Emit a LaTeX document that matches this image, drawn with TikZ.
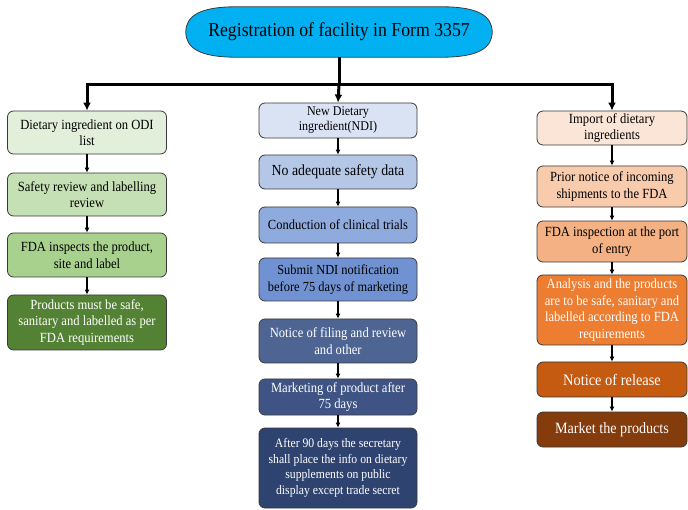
\documentclass[tikz,border=0pt]{standalone}
\usepackage{fontspec}
\setmainfont{Liberation Serif}[FakeStretch=0.9]
\usetikzlibrary{arrows.meta,positioning,calc,backgrounds}
\definecolor{titlefill}{HTML}{00B0F0}
\definecolor{gA}{HTML}{E2EFDA}
\definecolor{gB}{HTML}{C5E0B4}
\definecolor{gC}{HTML}{A9D18E}
\definecolor{gD}{HTML}{548235}
\definecolor{bA}{HTML}{DAE3F3}
\definecolor{bB}{HTML}{B4C7E7}
\definecolor{bC}{HTML}{8FAADC}
\definecolor{bD}{HTML}{7092D2}
\definecolor{bE}{HTML}{4E6594}
\definecolor{bF}{HTML}{3F5484}
\definecolor{bG}{HTML}{2F4370}
\definecolor{oA}{HTML}{FBE5D6}
\definecolor{oB}{HTML}{F8CBAD}
\definecolor{oC}{HTML}{F4B183}
\definecolor{oD}{HTML}{ED7D31}
\definecolor{oE}{HTML}{C55A11}
\definecolor{oF}{HTML}{843C0C}
\definecolor{edge}{HTML}{3A3A3A}
\tikzset{
  x=1pt, y=-1pt,
  box/.style={draw=edge, line width=0.8pt, rounded corners=6pt, align=center,
    inner sep=2pt, font=\fontsize{14}{16.5}\selectfont},
  lbox/.style={box, minimum width=159pt},
  mbox/.style={box, minimum width=158pt},
  rbox/.style={box, minimum width=150pt},
  link/.style={line width=1.3pt, -{Latex[length=5pt,width=5pt]}},
  trunk/.style={line width=3pt},
  branch/.style={line width=3pt, -{Latex[length=8pt,width=8pt]}}
}
\begin{document}
\begin{tikzpicture}
\useasboundingbox (0,0) rectangle (688,510);
% title
\node[inner sep=0pt, minimum width=306pt, minimum height=50pt,
  font=\fontsize{19.7}{23}\selectfont]
  (title) at (339,32) {Registration of facility in Form 3357};
\begin{scope}[on background layer]
\path[draw=edge, line width=0.8pt, fill=titlefill]
  ($(title.north west)+(50,0)$) -- ($(title.north east)+(-50,0)$)
  .. controls +(36,0) and +(0,-16) .. (title.east)
  .. controls +(0,16) and +(36,0) .. ($(title.south east)+(-50,0)$)
  -- ($(title.south west)+(50,0)$)
  .. controls +(-36,0) and +(0,16) .. (title.west)
  .. controls +(0,-16) and +(-36,0) .. ($(title.north west)+(50,0)$) -- cycle;
\end{scope}
\coordinate (bar) at (339,85);
% left column
\node[lbox, fill=gA, minimum height=43pt] (l1) at (87,132.5) {Dietary ingredient on ODI\\list};
\node[lbox, fill=gB, minimum height=43pt] (l2) at (87,194.5) {Safety review and labelling\\review};
\node[lbox, fill=gC, minimum height=44pt] (l3) at (87,255) {FDA inspects the product,\\site and label};
\node[lbox, fill=gD, text=white, minimum height=55pt] (l4) at (87,322.5) {Products must be safe,\\sanitary and labelled as per\\FDA requirements};
% middle column
\node[mbox, fill=bA, minimum height=35pt, font=\fontsize{13.4}{15}\selectfont] (m1) at (338,120.5) {New Dietary\\ingredient(NDI)};
\node[mbox, fill=bB, minimum height=34pt, font=\fontsize{15.4}{18}\selectfont] (m2) at (338,172) {No adequate safety data};
\node[mbox, fill=bC, minimum height=36pt, font=\fontsize{13.9}{16}\selectfont] (m3) at (338,225) {Conduction of clinical trials};
\node[mbox, fill=bD, minimum height=43pt, font=\fontsize{13.8}{16.5}\selectfont] (m4) at (338,279.5) {Submit NDI notification\\before 75 days of marketing};
\node[mbox, fill=bE, text=white, minimum height=44pt] (m5) at (338,341) {Notice of filing and review\\and other};
\node[mbox, fill=bF, text=white, minimum height=36pt, font=\fontsize{14}{15.5}\selectfont] (m6) at (338,397) {Marketing of product after\\75 days};
\node[mbox, fill=bG, text=white, minimum height=80pt, font=\fontsize{13}{15.5}\selectfont] (m7) at (338,468) {After 90 days the secretary\\shall place the info on dietary\\supplements on public\\display except trade secret};
% right column
\node[rbox, fill=oA, minimum height=34pt] (r1) at (612,128) {Import of dietary\\ingredients};
\node[rbox, fill=oB, minimum height=41pt] (r2) at (612,186.5) {Prior notice of incoming\\shipments to the FDA};
\node[rbox, fill=oC, minimum height=41pt] (r3) at (612,241.5) {FDA inspection at the port\\of entry};
\node[rbox, fill=oD, text=white, minimum height=70pt] (r4) at (612,310) {Analysis and the products\\are to be safe, sanitary and\\labelled according to FDA\\requirements};
\node[rbox, fill=oE, text=white, minimum height=35pt, font=\fontsize{16}{18}\selectfont] (r5) at (612,379.5) {Notice of release};
\node[rbox, fill=oF, text=white, minimum height=35pt, font=\fontsize{15.7}{18}\selectfont] (r6) at (612,429.5) {Market the products};
% trunk and branches
\draw[trunk] (title.south) -- (bar);
\draw[branch] (bar) -| (l1.north);
\draw[branch] (bar) -- (m1.north);
\draw[branch] (bar) -| (r1.north);
% links
\draw[link] (l1) -- (l2);
\draw[link] (l2) -- (l3);
\draw[link] (l3) -- (l4);
\draw[link] (m1) -- (m2);
\draw[link] (m2) -- (m3);
\draw[link] (m3) -- (m4);
\draw[link] (m4) -- (m5);
\draw[link] (m5) -- (m6);
\draw[link] (m6) -- (m7);
\draw[link] (r1) -- (r2);
\draw[link] (r2) -- (r3);
\draw[link] (r3) -- (r4);
\draw[link] (r4) -- (r5);
\draw[link] (r5) -- (r6);
\end{tikzpicture}
\end{document}
